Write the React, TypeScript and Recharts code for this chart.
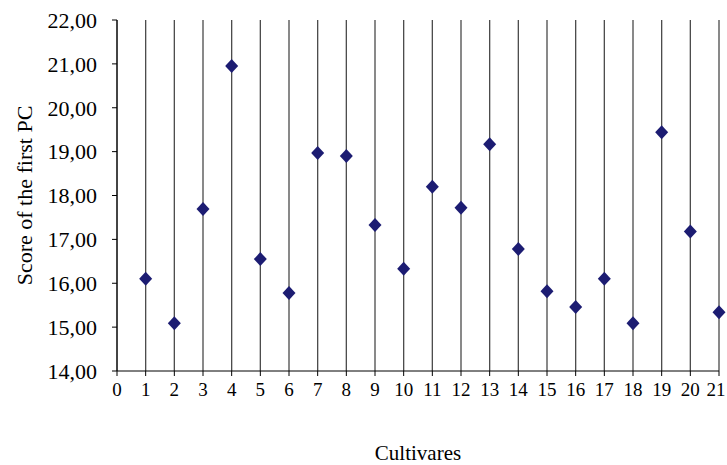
import { CartesianGrid, Scatter, ScatterChart, XAxis, YAxis } from "recharts";

const cultivars = [1, 2, 3, 4, 5, 6, 7, 8, 9, 10, 11, 12, 13, 14, 15, 16, 17, 18, 19, 20, 21];
const scores = [
  16.1, 15.09, 17.69, 20.95, 16.55, 15.78, 18.97, 18.9, 17.33, 16.33, 18.2,
  17.72, 19.17, 16.78, 15.82, 15.46, 16.1, 15.09, 19.44, 17.18, 15.34,
];
const xTicks = [0, 1, 2, 3, 4, 5, 6, 7, 8, 9, 10, 11, 12, 13, 14, 15, 16, 17, 18, 19, 20, 21];
const yTicks = [14, 15, 16, 17, 18, 19, 20, 21, 22];

const data = cultivars.map((c, i) => ({ x: c, y: scores[i] }));

const font = '"Liberation Serif", "Times New Roman", serif';

// diamond marker, a little wider than recharts' built-in one
function Diamond(props: any) {
  const { cx, cy } = props;
  if (cx == null || cy == null) return null;
  return (
    <path
      d={`M${cx},${cy - 7}L${cx + 6.5},${cy}L${cx},${cy + 7}L${cx - 6.5},${cy}Z`}
      fill="#1c1c72"
    />
  );
}

// x tick; the last one is nudged left so it stays inside the frame
function XTick(props: any) {
  const { x, y, payload } = props;
  const last = payload.value === xTicks[xTicks.length - 1];
  return (
    <text
      x={last ? x - 3 : x}
      y={y}
      dy="0.71em"
      textAnchor="middle"
      fill="#000"
      fontSize={19}
      fontFamily={font}
    >
      {payload.value}
    </text>
  );
}

export default function App() {
  return (
    <div style={{ position: "absolute", left: 0, top: 0, width: 727, height: 465, background: "#fff" }}>
      <ScatterChart
        width={727}
        height={465}
        margin={{ top: 20, right: 8, bottom: 0, left: 0 }}
        style={{ fontFamily: font }}
      >
        <CartesianGrid horizontal={false} stroke="#4a4a4a" strokeWidth={1.3} />
        <XAxis
          type="number"
          dataKey="x"
          domain={[0, 21]}
          ticks={xTicks}
          interval={0}
          height={94}
          stroke="#000"
          tickSize={5}
          tickMargin={7}
          tick={<XTick />}
          label={{
            value: "Cultivares",
            position: "insideBottom",
            offset: 5,
            style: { fill: "#000", fontSize: 21, fontFamily: font },
          }}
        />
        <YAxis
          type="number"
          dataKey="y"
          domain={[14, 22]}
          ticks={yTicks}
          interval={0}
          width={117}
          stroke="#000"
          tickSize={5}
          tickMargin={15}
          tickFormatter={(v: number) => v.toFixed(2).replace(".", ",")}
          tick={{ fill: "#000", fontSize: 22, fontFamily: font }}
          label={{
            value: "Score of the first PC",
            angle: -90,
            position: "insideLeft",
            offset: 24,
            style: { fill: "#000", fontSize: 22, fontFamily: font, textAnchor: "middle" },
          }}
        />
        <Scatter data={data} shape={<Diamond />} isAnimationActive={false} />
      </ScatterChart>
    </div>
  );
}
